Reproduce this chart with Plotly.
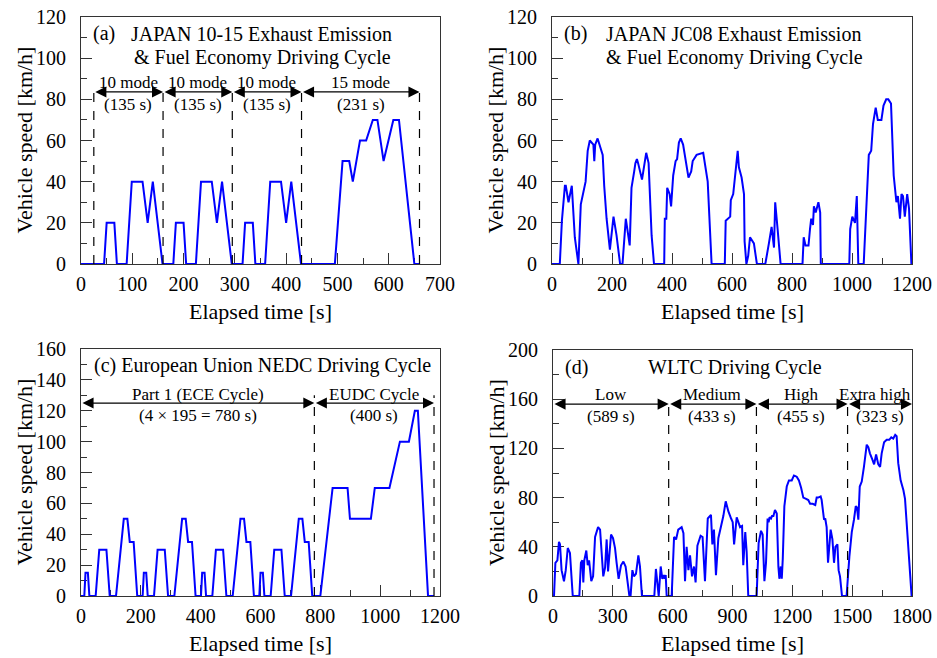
import plotly.graph_objects as go

# ---------------- data ----------------
# (a) Japan 10-15 mode
a_time = [0, 45, 50, 65, 70, 89, 99, 120, 130, 140, 159,
          180, 185, 200, 205, 224, 234, 255, 265, 275, 294,
          315, 320, 335, 340, 359, 369, 390, 400, 410, 429,
          495, 510, 523, 530, 544, 556, 569, 578, 590, 609, 620, 650, 660]
a_speed = [0, 0, 20, 20, 0, 0, 40, 40, 20, 40, 0,
           0, 20, 20, 0, 0, 40, 40, 20, 40, 0,
           0, 20, 20, 0, 0, 40, 40, 20, 40, 0,
           0, 50, 50, 40, 60, 60, 70, 70, 50, 70, 70, 0, 0]

# (b) Japan JC08
b_time = [0, 26, 33, 43, 46, 55, 66, 76, 88, 96, 112, 119, 126, 138, 141, 144, 152, 169,
          174, 182, 193, 205, 215, 227, 235, 246, 259, 265, 274, 278, 283, 287, 300, 314,
          322, 332, 340, 374, 376, 381, 384, 392, 397, 404, 412, 417, 423, 429, 437, 455,
          464, 469, 482, 500, 504, 519, 532, 576, 579, 594, 596, 604, 609, 619, 623, 632,
          640, 642, 648, 654, 660, 673, 683, 711, 723, 732, 740, 744, 752, 762, 835, 839,
          845, 855, 860, 864, 870, 873, 879, 888, 894, 896, 991, 994, 1001, 1010, 1016, 1021,
          1039, 1051, 1056, 1064, 1070, 1079, 1086, 1098, 1105, 1114, 1121, 1130, 1139, 1148,
          1153, 1160, 1165, 1170, 1176, 1184, 1190, 1198, 1200]
b_speed = [0, 0, 21, 38, 38, 30, 38, 13, 0, 29, 40, 55, 60, 58, 50, 58, 61, 53,
           38, 22, 7, 23, 14, 0, 0, 22, 9, 37, 45, 49, 51, 49, 41, 54,
           49, 14, 0, 0, 22, 22, 37, 34, 28, 43, 50, 51, 59, 61, 58, 42,
           45, 50, 53, 54, 54, 40, 0, 0, 21, 23, 31, 34, 41, 55, 47, 42,
           34, 11, 0, 4, 13, 10, 0, 0, 10, 18, 8, 30, 17, 0, 0, 13,
           9, 9, 17, 22, 19, 28, 25, 30, 25, 0, 0, 17, 23, 20, 33, 0,
           0, 35, 53, 55, 68, 76, 70, 70, 77, 80, 80, 78, 43, 30,
           33, 22, 34, 33, 23, 34, 27, 0, 0]

# (c) EU NEDC
c_time = [0, 11, 15, 23, 28, 49, 61, 85, 96, 117, 143, 155, 163, 176, 188,
          206, 210, 218, 223, 244, 256, 280, 291, 312, 338, 350, 358, 371, 383,
          401, 405, 413, 418, 439, 451, 475, 486, 507, 533, 545, 553, 566, 578,
          596, 600, 608, 613, 634, 646, 670, 681, 702, 728, 740, 748, 761, 773,
          800, 841, 891, 899, 969, 982, 1031, 1066, 1096, 1116, 1126, 1160, 1180]
c_speed = [0, 0, 15, 15, 0, 0, 30, 30, 0, 0, 50, 50, 35, 35, 0,
           0, 15, 15, 0, 0, 30, 30, 0, 0, 50, 50, 35, 35, 0,
           0, 15, 15, 0, 0, 30, 30, 0, 0, 50, 50, 35, 35, 0,
           0, 15, 15, 0, 0, 30, 30, 0, 0, 50, 50, 35, 35, 0,
           0, 70, 70, 50, 50, 70, 70, 100, 100, 120, 120, 0, 0]

# (d) WLTC
d_time = [0, 5, 12, 22, 30, 35, 43, 55, 64, 74, 85, 99, 132, 140, 147, 152, 157, 167, 174,
          181, 192, 201, 211, 226, 236, 246, 252, 261, 269, 276, 282, 291, 301, 311, 319,
          329, 341, 353, 364, 373, 383, 389, 398, 406, 416, 428, 436, 446, 508, 516, 525,
          530, 540, 548, 555, 560, 565, 570, 595, 607, 617, 628, 645, 654, 662, 670, 679,
          687, 697, 707, 715, 724, 740, 750, 762, 776, 792, 799, 807, 817, 829, 846, 854,
          866, 879, 893, 901, 908, 921, 938, 948, 954, 964, 971, 979, 1021, 1031, 1043,
          1051, 1060, 1068, 1076, 1081, 1086, 1093, 1098, 1105, 1113, 1122, 1130, 1135,
          1142, 1147, 1152, 1160, 1172, 1183, 1197, 1208, 1222, 1233, 1244, 1255, 1269,
          1280, 1289, 1302, 1315, 1322, 1330, 1342, 1347, 1359, 1365, 1372, 1379, 1386,
          1392, 1401, 1409, 1416, 1422, 1426, 1432, 1439, 1449, 1472, 1486, 1498, 1509,
          1518, 1524, 1531, 1538, 1548, 1559, 1573, 1581, 1589, 1601, 1610, 1620, 1631,
          1640, 1648, 1660, 1673, 1686, 1696, 1706, 1716, 1723, 1731, 1743, 1757, 1765,
          1782, 1798, 1800]
d_speed = [0, 0, 27, 29, 44, 42, 21, 12, 21, 39, 35, 0, 0, 27, 29, 11, 29, 37, 25,
           29, 12, 16, 48, 56, 54, 31, 16, 23, 46, 20, 35, 50, 47, 39, 27,
           14, 25, 28, 24, 12, 0, 0, 21, 16, 18, 33, 24, 0, 0, 22, 5,
           0, 24, 14, 17, 14, 17, 0, 0, 48, 46, 54, 56, 51, 12, 40, 21,
           33, 16, 24, 11, 41, 49, 48, 12, 63, 66, 42, 54, 17, 47, 58, 65,
           77, 69, 63, 60, 42, 64, 56, 57, 25, 52, 36, 0, 0, 43, 53,
           50, 12, 27, 63, 60, 64, 63, 65, 65, 70, 67, 24, 14,
           24, 14, 30, 73, 89, 94, 94, 98, 97, 94, 88, 80, 79,
           78, 75, 75, 74, 80, 80, 81, 78, 62, 63, 56, 27, 46,
           54, 46, 27, 40, 42, 42, 21, 16, 0, 0, 32, 52, 62,
           73, 72, 62, 89, 93, 105, 123, 121, 116, 111, 107, 115, 107,
           105, 116, 125, 127, 127, 129, 128, 131, 130, 108, 94, 86, 79,
           35, 0, 0]

# phase boundaries and labels
a_bounds = [25, 160, 295, 430, 660]
a_labels = ["10 mode", "10 mode", "10 mode", "15 mode"]
a_durs = ["(135 s)", "(135 s)", "(135 s)", "(231 s)"]
c_bounds = [0, 780, 1180]
c_labels = ["Part 1 (ECE Cycle)", "EUDC Cycle"]
c_durs = ["(4 \u00d7 195 = 780 s)", "(400 s)"]
d_bounds = [0, 580, 1020, 1477, 1800]
d_labels = ["Low", "Medium", "High", "Extra high"]
d_durs = ["(589 s)", "(433 s)", "(455 s)", "(323 s)"]

# ---------------- figure ----------------
FONT = "Liberation Serif"
W, H = 937, 658

fig = go.Figure()
series = [(a_time, a_speed), (b_time, b_speed), (c_time, c_speed), (d_time, d_speed)]
for i, (t, v) in enumerate(series):
    k = "" if i == 0 else str(i + 1)
    fig.add_trace(go.Scatter(x=t, y=v, mode="lines", xaxis="x" + k, yaxis="y" + k,
                             line=dict(color="#0000ff", width=2), showlegend=False,
                             cliponaxis=False, hoverinfo="skip"))

def px_x(p):
    return p / W

def px_y(p):
    return 1 - p / H

# plot areas in window pixels
dom = {
    1: ([81, 440], [17, 264]),
    2: ([552, 912], [17, 264]),
    3: ([81, 440], [349, 596]),
    4: ([553, 912], [350, 596]),
}
xr = {1: (700, 100, 50), 2: (1200, 200, 100), 3: (1200, 200, 100), 4: (1800, 300, 150)}
yr = {1: (120, 20, 10), 2: (120, 20, 10), 3: (160, 20, 10), 4: (200, 40, 20)}

axcommon = dict(showline=True, linecolor="#333333", linewidth=1, mirror=True,
                ticks="inside", ticklen=11, tickwidth=1, tickcolor="#333333",
                showgrid=False, zeroline=False, automargin=False,
                ticklabeloverflow="allow", layer="below traces",
                tickfont=dict(family=FONT, size=20, color="black"))
lay = {}
for i in range(1, 5):
    k = "" if i == 1 else str(i)
    (x0, x1), (yt, yb) = dom[i]
    xmax, xd, xm = xr[i]
    ymax, yd, ym = yr[i]
    lay["xaxis" + k] = dict(axcommon, domain=[px_x(x0), px_x(x1)], range=[0, xmax],
                            dtick=xd, tick0=0, anchor="y" + k, ticklabelstandoff=2,
                            minor=dict(ticks="inside", ticklen=6, dtick=xm, tick0=0,
                                       tickcolor="#333333"))
    lay["yaxis" + k] = dict(axcommon, domain=[px_y(yb), px_y(yt)], range=[0, ymax],
                            dtick=yd, tick0=0, anchor="x" + k, ticklabelstandoff=10,
                            minor=dict(ticks="inside", ticklen=6, dtick=ym, tick0=0,
                                       tickcolor="#333333"))

fig.update_layout(template="none", width=W, height=H,
                  margin=dict(l=0, r=0, t=0, b=0, pad=0, autoexpand=False),
                  plot_bgcolor="white", paper_bgcolor="white", hovermode=False,
                  **lay)

ann = []
shapes = []

def txt(text, x, y, xref, yref, size, xanchor="center", angle=0):
    ann.append(dict(text=text, x=x, y=y, xref=xref, yref=yref, showarrow=False,
                    xanchor=xanchor, yanchor="middle", textangle=angle,
                    font=dict(family=FONT, size=size, color="black")))

def darrow(x0, x1, y, xr_, yr_):
    ann.append(dict(text="", x=x1, y=y, ax=x0, ay=y, xref=xr_, yref=yr_,
                    axref=xr_, ayref=yr_, showarrow=True, arrowhead=2, startarrowhead=2,
                    arrowside="end+start", arrowsize=1.7, startarrowsize=1.7,
                    arrowwidth=1.3, arrowcolor="black", standoff=0, startstandoff=0))

def vdash(x, y1, xr_, yr_):
    shapes.append(dict(type="line", x0=x, x1=x, y0=0, y1=y1, xref=xr_, yref=yr_,
                       line=dict(color="black", width=1.2, dash="dash")))

# axis titles
for i in range(1, 5):
    (x0, x1), (yt, yb) = dom[i]
    txt("Elapsed time [s]", px_x((x0 + x1) / 2), px_y(yb + 47), "paper", "paper", 22)
    txt("Vehicle speed [km/h]", px_x(x0 - 57), px_y((yt + yb) / 2), "paper", "paper", 22,
        angle=-90)

# (a)
txt("(a)", 19, 111.8, "x", "y", 20, "left")
txt("JAPAN 10-15 Exhaust Emission", 93, 111.8, "x", "y", 20, "left")
txt("&amp; Fuel Economy Driving Cycle", 100, 100.1, "x", "y", 20, "left")
for j in range(4):
    s, e = a_bounds[j], a_bounds[j + 1]
    darrow(s, e, 83.6, "x", "y")
    txt(a_labels[j], (s + e) / 2, 88.0, "x", "y", 17)
    txt(a_durs[j], (s + e) / 2, 77.5, "x", "y", 17)
for b in a_bounds:
    vdash(b, 83.6, "x", "y")

# (b)
txt("(b)", 34, 111.8, "x2", "y2", 20, "left")
txt("JAPAN JC08 Exhaust Emission", 174, 111.8, "x2", "y2", 20, "left")
txt("&amp; Fuel Economy Driving Cycle", 174, 100.1, "x2", "y2", 20, "left")

# (c)
txt("(c) European Union NEDC Driving Cycle", 36, 149.6, "x3", "y3", 20, "left")
c_centers = [390, 980]
for j in range(2):
    s, e = c_bounds[j], c_bounds[j + 1]
    darrow(s, e, 125, "x3", "y3")
    txt(c_labels[j], c_centers[j], 130.5, "x3", "y3", 17)
    txt(c_durs[j], c_centers[j], 116.9, "x3", "y3", 17)
for b in c_bounds[1:]:
    vdash(b, 130, "x3", "y3")

# (d)
txt("(d)", 50, 186, "x4", "y4", 20, "left")
txt("WLTC Driving Cycle", 466, 186, "x4", "y4", 20, "left")
d_lab_x = [291, 799, 1246, 1616]
d_dur_x = [291, 799, 1245, 1640]
for j in range(4):
    s, e = d_bounds[j], d_bounds[j + 1]
    darrow(s, e, 156, "x4", "y4")
    txt(d_labels[j], d_lab_x[j], 164, "x4", "y4", 17)
    txt(d_durs[j], d_dur_x[j], 146, "x4", "y4", 17)
for b in d_bounds[1:4]:
    vdash(b, 157, "x4", "y4")

fig.update_layout(annotations=ann, shapes=shapes)
# remove the default body margin of the page so the figure sits at the window origin
fig.write_html("out.html", config={"displayModeBar": False, "staticPlot": True},
               post_script="document.body.style.margin='0';document.body.style.overflow='hidden';")
